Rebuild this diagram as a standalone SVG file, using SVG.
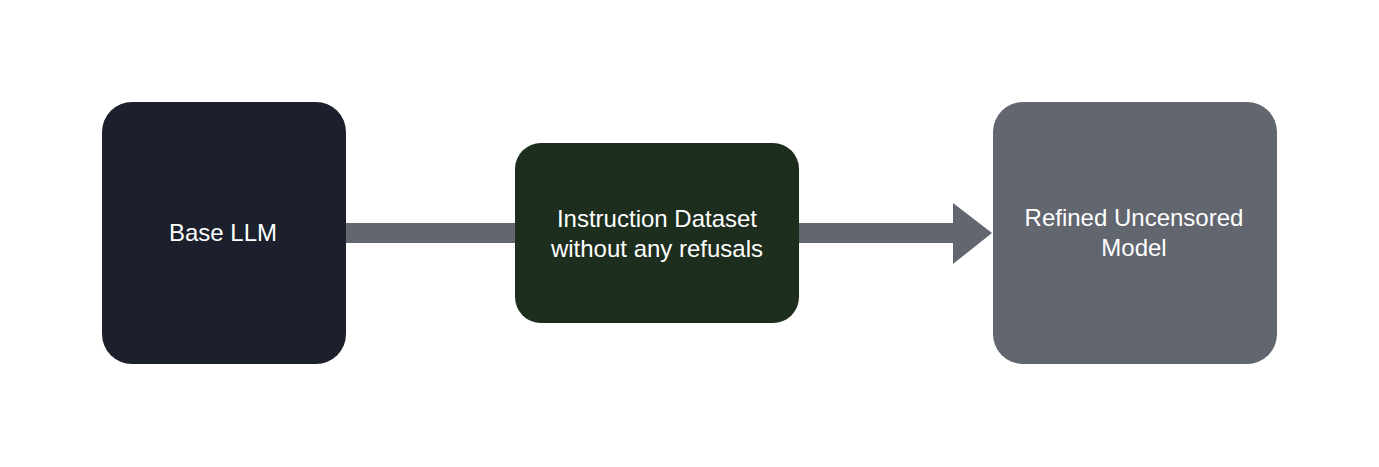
<svg xmlns="http://www.w3.org/2000/svg" width="1379" height="467" viewBox="0 0 1379 467">
<style>
.lbl{font-family:"Liberation Sans",Arial,sans-serif;font-size:24px;fill:#ffffff;text-anchor:middle}
.conn{fill:#62666f}
</style>
<rect x="0" y="0" width="1379" height="467" fill="#ffffff"/>
<g id="connectors">
<rect class="conn" x="346" y="223" width="170" height="20"/>
<polygon class="conn" points="798,223 953,223 953,203 992,233 953,264 953,243 798,243"/>
</g>
<g id="base-llm">
<rect x="102" y="102" width="244" height="262" rx="30" fill="#1b202c"/>
<text class="lbl" x="223" y="241">Base LLM</text>
</g>
<g id="instruction-dataset">
<rect x="515" y="143" width="284" height="180" rx="26" fill="#1e2e1e"/>
<text class="lbl" x="657" y="227">Instruction Dataset</text>
<text class="lbl" x="657" y="257">without any refusals</text>
</g>
<g id="refined-model">
<rect x="993" y="102" width="284" height="262" rx="30" fill="#62666f"/>
<text class="lbl" x="1134" y="226">Refined Uncensored</text>
<text class="lbl" x="1134" y="256">Model</text>
</g>
</svg>
